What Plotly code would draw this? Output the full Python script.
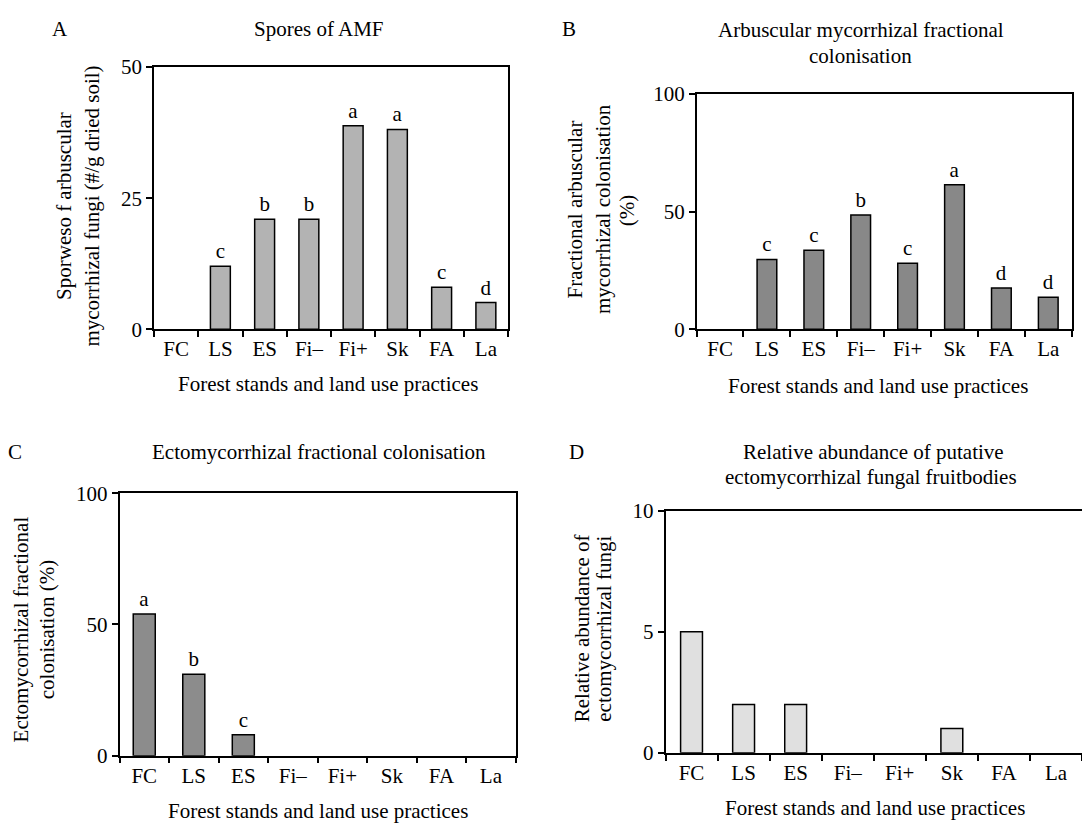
import plotly.graph_objects as go

# ---------------- data ----------------
categories = ["FC", "LS", "ES", "Fi\u2013", "Fi+", "Sk", "FA", "La"]

spores_amf = [0, 12, 21, 21, 38.8, 38.1, 8, 5.1]
spores_letters = ["", "c", "b", "b", "a", "a", "c", "d"]

amf_colonisation = [0, 29.7, 33.6, 48.6, 28.1, 61.5, 17.6, 13.6]
amf_letters = ["", "c", "c", "b", "c", "a", "d", "d"]

ecm_colonisation = [54, 31, 8, 0, 0, 0, 0, 0]
ecm_letters = ["a", "b", "c", "", "", "", "", ""]

ecm_fruitbodies = [5, 2, 2, 0, 0, 1, 0, 0]

W, H = 1082, 835
FONT = "Liberation Serif, Times New Roman, serif"
FS = 21


def px_x(p):
    return p / W


def px_y(p):
    return 1 - p / H


panels = [
    dict(vals=spores_amf, letters=spores_letters, color="#b3b3b3",
         x=(154, 508), y=(56.7, 326.7), yr=50, ticks=[0, 25, 50], w=0.45, right=True),
    dict(vals=amf_colonisation, letters=amf_letters, color="#888888",
         x=(696.6, 1071.7), y=(84.5, 326.7), yr=100, ticks=[0, 50, 100], w=0.42, right=True),
    dict(vals=ecm_colonisation, letters=ecm_letters, color="#8c8c8c",
         x=(119.5, 515.7), y=(495.5, 765.7), yr=100, ticks=[0, 50, 100], w=0.445, right=True),
    dict(vals=ecm_fruitbodies, letters=[""] * 8, color="#e0e0e0",
         x=(665.5, 1082), y=(513.7, 762.7), yr=10, ticks=[0, 5, 10], w=0.42, right=False),
]

fig = go.Figure()
layout = {}
for i, p in enumerate(panels, start=1):
    xa = "x" if i == 1 else f"x{i}"
    ya = "y" if i == 1 else f"y{i}"
    yvals = [v if v else None for v in p["vals"]]
    fig.add_trace(go.Bar(
        x=categories, y=yvals, xaxis=xa, yaxis=ya,
        width=p["w"], marker=dict(color=p["color"], line=dict(color="black", width=1.5)),
        text=p["letters"], textposition="outside", cliponaxis=False, constraintext="none",
        textfont=dict(family=FONT, size=FS, color="black"),
        showlegend=False, hoverinfo="skip",
    ))
    xkey = "xaxis" if i == 1 else f"xaxis{i}"
    ykey = "yaxis" if i == 1 else f"yaxis{i}"
    layout[xkey] = dict(
        domain=[px_x(p["x"][0]), min(1.0, px_x(p["x"][1]))],
        anchor=ya, type="category", range=[-0.5, 7.5],
        tickson="boundaries", ticks="outside", ticklen=6, tickwidth=1.5, tickcolor="black",
        showline=True, linecolor="black", linewidth=1.5, mirror=True,
        showgrid=False, zeroline=False,
        tickfont=dict(family=FONT, size=FS, color="black"),
        fixedrange=True,
    )
    layout[ykey] = dict(
        domain=[px_y(p["y"][1]), px_y(p["y"][0])],
        anchor=xa, range=[0, p["yr"]], tickvals=p["ticks"],
        ticks="outside", ticklen=6, tickwidth=1.5, tickcolor="black",
        showline=True, linecolor="black", linewidth=1.5, mirror=p["right"],
        showgrid=False, zeroline=False,
        tickfont=dict(family=FONT, size=FS, color="black"),
        fixedrange=True,
    )


def ann(text, x, y, angle=0, size=FS):
    return dict(text=text, x=px_x(x), y=px_y(y), xref="paper", yref="paper",
                xanchor="center", yanchor="middle", showarrow=False, textangle=angle,
                font=dict(family=FONT, size=size, color="black"))


annotations = [
    ann("A", 60.3, 17), ann("B", 569.4, 18), ann("C", 15.5, 453), ann("D", 576.3, 453),
    ann("Spores of AMF", 318.5, 17),
    ann("Arbuscular mycorrhizal fractional", 860.5, 18.3),
    ann("colonisation", 860.5, 45),
    ann("Ectomycorrhizal fractional colonisation", 319.4, 453),
    ann("Relative abundance of putative", 873.6, 453),
    ann("ectomycorrhizal fungal fruitbodies", 871, 479),
    ann("Forest stands and land use practices", 328, 383),
    ann("Forest stands and land use practices", 878, 385),
    ann("Forest stands and land use practices", 317.7, 823),
    ann("Forest stands and land use practices", 875.3, 820),
    ann("Sporweso f arbuscular", 64.7, 200, -90),
    ann("mycorrhizal fungi (#/g dried soil)", 92.3, 200, -90),
    ann("Fractional arbuscular", 575.3, 203, -90),
    ann("mycorrhizal colonisation", 602.9, 203, -90),
    ann("(%)", 627.1, 205, -90),
    ann("Ectomycorrhizal fractional", 20.7, 636, -90),
    ann("colonisation (%)", 46.5, 636, -90),
    ann("Relative abundance of", 581.5, 635, -90),
    ann("ectomycorrhizal fungi", 604, 635, -90),
]

fig.update_layout(
    width=W, height=H, margin=dict(l=0, r=0, t=0, b=0),
    paper_bgcolor="white", plot_bgcolor="white",
    font=dict(family=FONT, size=FS, color="black"),
    annotations=annotations, bargap=0.5,
    **layout,
)

fig.write_html(
    "out.html",
    config={"displayModeBar": False},
    post_script="document.body.style.margin='0';document.body.style.overflow='hidden';",
)
